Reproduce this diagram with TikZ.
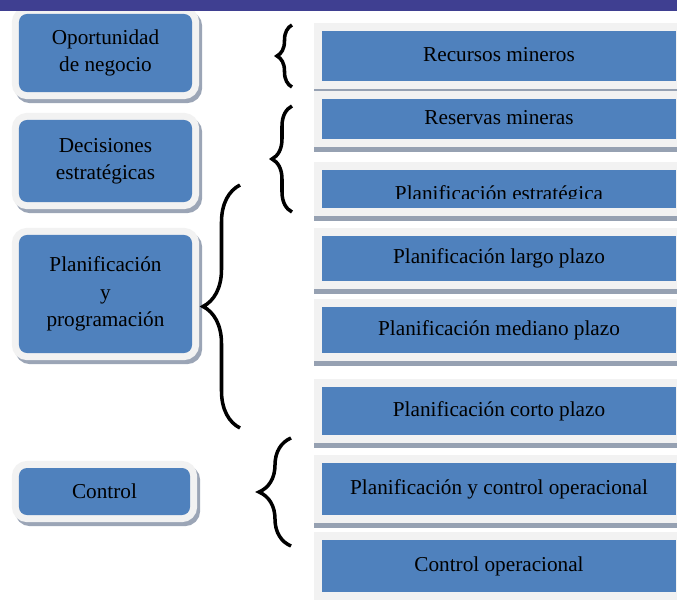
\documentclass[tikz,border=0pt]{standalone}
\usepackage{fontspec}
\setmainfont{Liberation Serif}
\usetikzlibrary{decorations.pathreplacing}
\definecolor{boxblue}{RGB}{79,129,189}
\definecolor{framegrey}{RGB}{242,242,242}
\definecolor{shadowgrey}{RGB}{155,165,182}
\definecolor{bargrey}{RGB}{150,161,178}
\definecolor{topbar}{RGB}{63,63,145}

\begin{document}
\begin{tikzpicture}[x=0.025cm,y=-0.025cm,
	font=\fontsize{15.1}{19.5}\selectfont,
	leftbox/.style={rounded corners=0.2cm, fill=boxblue, inner sep=0pt,
		minimum width=4.325cm, align=center,
		preaction={draw=shadowgrey, line width=0.35cm,
			transform canvas={shift={(0.075cm,-0.1cm)}}},
		preaction={draw=framegrey, line width=0.35cm}},
	rightbox/.style={fill=boxblue, inner sep=0pt, minimum width=8.85cm,
		text height=0.45cm, text depth=0.2cm,
		preaction={draw=bargrey, line width=0.4cm,
			transform canvas={yshift=-0.125cm}},
		preaction={draw=framegrey, line width=0.4cm}},
	curly/.style={decorate, decoration={brace, amplitude=#1}, line width=2.5pt}]
	\useasboundingbox (0,0) rectangle (677,599);
	\clip (0,0) rectangle (677,599);
	
	\node[leftbox, minimum height=1.95cm] (oport) at (105.5,53) {Oportunidad\\de negocio};
	\node[leftbox, minimum height=2.05cm] (decis) at (105.5,161) {Decisiones\\estratégicas};
	\node[leftbox, minimum height=2.95cm] (planprog) at (105.5,294) {Planificación\\y\\programación};
	\node[leftbox, minimum height=1.175cm, minimum width=4.275cm] (control) at (104.5,491.5) {Control};
	
	\node[rightbox, minimum height=1.25cm] (recursos) at (499,56) {Recursos mineros};
	\node[rightbox, minimum height=1cm] (reservas) at (499,119) {Reservas mineras};
	\node[rightbox, minimum height=0.95cm,
		path picture={
			\clip (path picture bounding box.north west) rectangle ([yshift=0.25cm]path picture bounding box.south east);
			\node[anchor=base] (estrattext) at ([yshift=0.2cm]path picture bounding box.south) {Planificación estratégica};
		}] (estrat) at (499,189) {};
	\node[rightbox, minimum height=1.125cm] (largo) at (499,258.5) {Planificación largo plazo};
	\node[rightbox, minimum height=1.15cm] (mediano) at (499,330) {Planificación mediano plazo};
	\node[rightbox, minimum height=1.2cm] (corto) at (499,411) {Planificación corto plazo};
	\node[rightbox, minimum height=1.3cm] (plancontrol) at (499,489) {Planificación y control operacional};
	\node[rightbox, minimum height=1.3cm] (controlop) at (499,566) {Control operacional};
	
	\coordinate (b1s) at (292,87); \coordinate (b1e) at (292,25);
	\coordinate (b2s) at (292,212); \coordinate (b2e) at (292,106);
	\coordinate (b3s) at (240,428); \coordinate (b3e) at (240,185);
	\coordinate (b4s) at (291,546); \coordinate (b4e) at (291,438);
	\draw[curly=0.375cm] (b1s) -- (b1e);
	\draw[curly=0.5cm] (b2s) -- (b2e);
	\draw[curly=0.925cm] (b3s) -- (b3e);
	\draw[curly=0.8cm] (b4s) -- (b4e);
	
	\fill[topbar] (0,0) rectangle (677,11);
\end{tikzpicture}
\end{document}
